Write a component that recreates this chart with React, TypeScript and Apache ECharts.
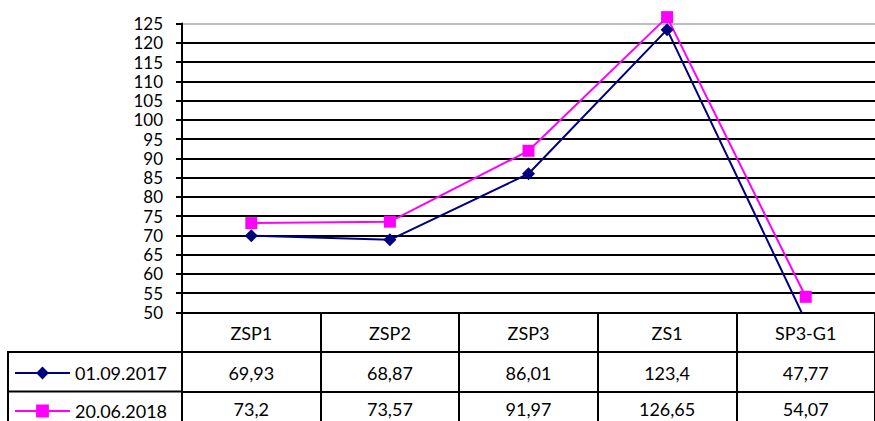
import React, { useEffect, useRef } from "react";
import * as echarts from "echarts";

const categories = ["ZSP1", "ZSP2", "ZSP3", "ZS1", "SP3-G1"];
const seriesA = [69.93, 68.87, 86.01, 123.4, 47.77];
const seriesB = [73.2, 73.57, 91.97, 126.65, 54.07];
const nameA = "01.09.2017";
const nameB = "20.06.2018";
const yMin = 50;
const yMax = 125;
const yStep = 5;

const fmt = (v: number) => String(v).replace(".", ",");
const FONT = "Lato";
const FS = 18;

export default function App() {
  const ref = useRef<HTMLDivElement>(null);
  useEffect(() => {
    document.body.style.margin = "0";
    const chart = echarts.init(ref.current!, null, { renderer: "svg" });
    const nLines = (yMax - yMin) / yStep + 1;
    const splitColors = Array.from({ length: nLines }, (_, i) =>
      i === nLines - 1 ? "#bfbfbf" : "#000000"
    );
    const tableAxis = (data: string[], offset: number, margin: number) => ({
      type: "category",
      data,
      gridIndex: 0,
      position: "bottom",
      offset,
      boundaryGap: true,
      axisLine: { show: true, lineStyle: { color: "#000", width: 2 } },
      axisTick: {
        show: true,
        interval: 0,
        length: 39.5,
        alignWithLabel: false,
        lineStyle: { color: "#000", width: 2 },
      },
      axisLabel: {
        interval: 0,
        margin,
        color: "#000",
        fontFamily: FONT,
        fontSize: FS,
        lineHeight: 19,
        fontWeight: "normal",
      },
      splitLine: { show: false },
    });
    const legendBase = {
      left: 14,
      orient: "horizontal",
      itemWidth: 55,
      itemHeight: 16,
      itemGap: 5,
      padding: 0,
      lineStyle: { width: 2 },
      textStyle: { color: "#000", fontFamily: FONT, fontSize: FS, lineHeight: 18 },
    };
    chart.setOption({
      animation: false,
      grid: { left: 182, top: 23.5, right: -5.5, height: 289, containLabel: false },
      legend: [
        { ...legendBase, data: [nameA], top: 364 },
        { ...legendBase, data: [nameB], top: 402 },
      ],
      xAxis: [
        tableAxis(categories, 0, 11),
        tableAxis(seriesA.map(fmt), 39.5, 11),
        tableAxis(seriesB.map(fmt), 79, 8),
      ],
      yAxis: {
        type: "value",
        min: yMin,
        max: yMax,
        interval: yStep,
        axisLine: { show: true, lineStyle: { color: "#000", width: 2 } },
        axisTick: { show: true, length: 6, lineStyle: { color: "#000", width: 2 } },
        axisLabel: { color: "#000", fontFamily: FONT, fontSize: 17, margin: 19 },
        splitLine: { show: true, lineStyle: { color: splitColors, width: 2 } },
      },
      graphic: [
        { type: "line", shape: { x1: 8, y1: 352, x2: 182, y2: 352 }, style: { stroke: "#000", lineWidth: 2 } },
        { type: "line", shape: { x1: 8, y1: 391.5, x2: 182, y2: 391.5 }, style: { stroke: "#000", lineWidth: 2 } },
        { type: "line", shape: { x1: 8, y1: 351, x2: 8, y2: 421 }, style: { stroke: "#000", lineWidth: 2 } },
      ],
      series: [
        {
          name: nameA,
          type: "line",
          data: seriesA,
          clip: true,
          symbol: "diamond",
          symbolSize: 13,
          z: 4,
          itemStyle: { color: "#000080" },
          lineStyle: { color: "#000080", width: 2 },
        },
        {
          name: nameB,
          type: "line",
          data: seriesB,
          clip: false,
          symbol: "rect",
          symbolSize: 12,
          z: 3,
          itemStyle: { color: "#ff00ff" },
          lineStyle: { color: "#ff00ff", width: 2 },
        },
      ],
    });
    return () => chart.dispose();
  }, []);
  return <div ref={ref} style={{ width: 875, height: 421 }} />;
}
